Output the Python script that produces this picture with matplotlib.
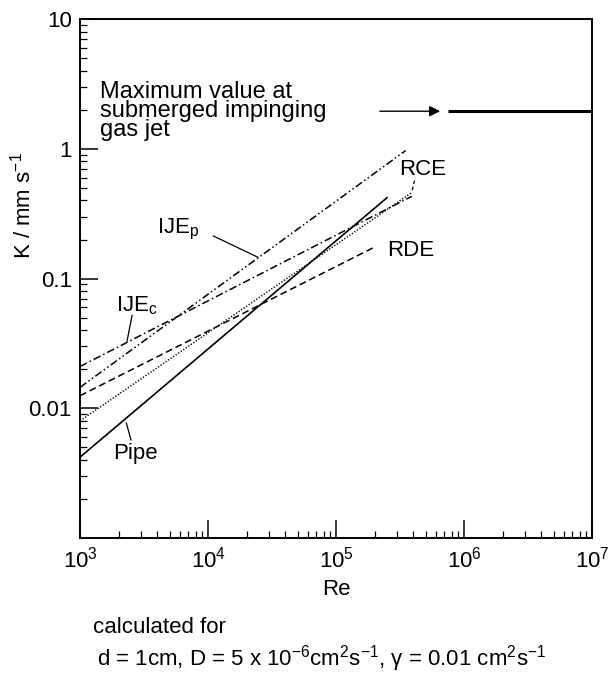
import numpy as np
import matplotlib
matplotlib.use("Agg")
import matplotlib.pyplot as plt
from matplotlib.ticker import FixedLocator, FixedFormatter, LogLocator, NullFormatter

plt.rcParams['font.family'] = ['Liberation Sans', 'DejaVu Sans']
plt.rcParams['mathtext.default'] = 'regular'

# straight lines in log-log space: (Re start, Re end), (K start, K end) in mm/s
pipe_re = [1e3, 2.5e5]
pipe_k = [0.0042, 0.42]
rce_re = [1e3, 3.9e5]
rce_k = [0.008, 0.46]
rde_re = [1e3, 2.0e5]
rde_k = [0.0125, 0.175]
ije_c_re = [1e3, 3.9e5]
ije_c_k = [0.021, 0.43]
ije_p_re = [1e3, 3.5e5]
ije_p_k = [0.0145, 0.97]
jet_max_re = [7.5e5, 1e7]
jet_max_k = [1.95, 1.95]

y_ticks = [10, 1, 0.1, 0.01]
y_tick_labels = ['10', '1', '0.1', '0.01']

fig = plt.figure(figsize=(6.11, 6.73), dpi=100)
ax = fig.add_axes([0.131, 0.2006, 0.838, 0.771])

ax.plot(pipe_re, pipe_k, color='black', lw=1.2, ls='-')
ax.plot(rce_re, rce_k, color='black', lw=1.1, ls=(0, (0.8, 1.2)))
ax.plot(rde_re, rde_k, color='black', lw=1.1, ls=(0, (4.5, 2.5)))
ax.plot(ije_c_re, ije_c_k, color='black', lw=1.1, ls=(0, (5, 2, 1, 2)))
ax.plot(ije_p_re, ije_p_k, color='black', lw=1.1, ls=(0, (5, 1.8, 1, 1.8, 1, 1.8)))
ax.plot(jet_max_re, jet_max_k, color='black', lw=2.2, solid_capstyle='butt')

ax.set_xscale('log')
ax.set_yscale('log')
ax.set_xlim(1e3, 1e7)
ax.set_ylim(1e-3, 10)

ax.yaxis.set_major_locator(FixedLocator(y_ticks))
ax.yaxis.set_major_formatter(FixedFormatter(y_tick_labels))
ax.yaxis.set_minor_locator(LogLocator(base=10, subs=np.arange(2, 10)))
ax.yaxis.set_minor_formatter(NullFormatter())
ax.xaxis.set_minor_locator(LogLocator(base=10, subs=np.arange(2, 10)))
ax.xaxis.set_minor_formatter(NullFormatter())

ax.tick_params(which='major', direction='in', length=13, width=1.1, labelsize=16, pad=6)
ax.tick_params(which='minor', direction='in', length=5, width=0.9)
ax.tick_params(top=False, right=False, which='both')
for s in ax.spines.values():
    s.set_linewidth(1.4)

ax.set_xlabel('Re', fontsize=16, va='center')
ax.xaxis.set_label_coords(0.5, -0.10)
ax.set_ylabel(r'K / mm s$^{-1}$', fontsize=16, va='center')
ax.yaxis.set_label_coords(-0.113, 0.64)

# annotations
ax.text(1.43e3, 1.95, 'Maximum value at\nsubmerged impinging\ngas jet', fontsize=17,
        va='center', ha='left', linespacing=0.84)
ax.annotate('', xy=(6.5e5, 1.95), xytext=(2.2e5, 1.95),
            arrowprops=dict(arrowstyle='-|>', color='black', lw=1.0,
                            mutation_scale=16, shrinkA=0, shrinkB=0))

ax.text(4.0e3, 0.24, r'IJE$_{p}$', fontsize=16, ha='left', va='center')
ax.plot([1.1e4, 2.45e4], [0.213, 0.146], color='black', lw=0.9)
ax.text(1.9e3, 0.062, r'IJE$_{c}$', fontsize=16, ha='left', va='center')
ax.plot([2.55e3, 2.33e3], [0.052, 0.033], color='black', lw=0.9)
ax.text(1.8e3, 0.0045, 'Pipe', fontsize=16, ha='left', va='center')
ax.plot([2.5e3, 2.3e3], [0.0057, 0.0077], color='black', lw=0.9)
ax.text(3.1e5, 0.69, 'RCE', fontsize=16, ha='left', va='center')
ax.plot([4.1e5, 3.9e5], [0.57, 0.46], color='black', lw=0.9, ls=(0, (3, 2)))
ax.text(2.5e5, 0.166, 'RDE', fontsize=16, ha='left', va='center')

fig.text(0.153, 0.067, 'calculated for', fontsize=16, ha='left', va='center')
fig.text(0.158, 0.022,
         r'd = 1cm, D = 5 x 10$^{-6}$cm$^{2}$s$^{-1}$, γ = 0.01 cm$^{2}$s$^{-1}$',
         fontsize=16, ha='left', va='center')

fig.savefig('out.png', dpi=100)
